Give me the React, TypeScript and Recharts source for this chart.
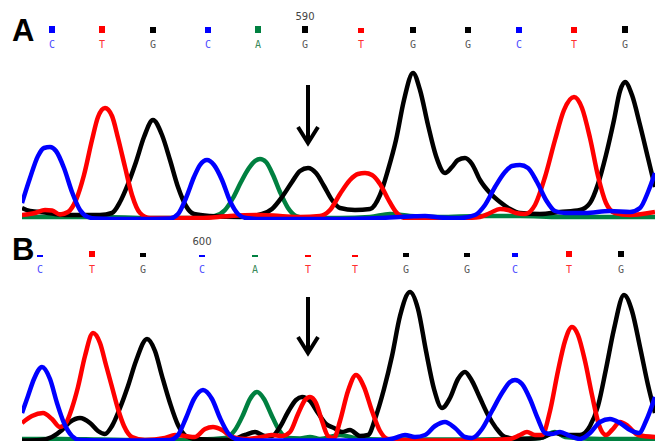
import React from "react";
import { LineChart, Line, XAxis, YAxis, ReferenceLine } from "recharts";

type Pt = [number, number];

// scan positions and base calls
const basesA = ["C", "T", "G", "C", "A", "G", "T", "G", "G", "C", "T", "G"];
const basePosA = [52, 102, 153, 208, 258, 305, 361, 413, 468, 519, 574, 625];
const qualA = [7, 7, 6, 6, 7, 7, 5, 6, 6, 6, 6, 7];

const basesB = ["C", "T", "G", "C", "A", "T", "T", "G", "G", "C", "T", "G"];
const basePosB = [40, 92, 143, 202, 255, 308, 355, 406, 467, 515, 569, 621];
const qualB = [2, 6, 4, 2, 2, 2, 2, 4, 4, 4, 6, 6];

// trace intensities, panel A
const blueA: Pt[] = [
  [22, 170], [30, 420], [38, 640], [44, 720], [50, 730], [56, 690], [64, 520], [72, 280], [80, 100], [88, 30],
  [96, 15], [130, 10], [170, 15], [178, 60], [186, 220], [194, 430], [200, 550], [207, 600], [214, 550], [222, 400],
  [230, 190], [238, 60], [246, 20], [260, 10], [300, 10], [340, 10], [380, 20], [410, 35], [425, 40], [440, 25],
  [460, 20], [475, 50], [485, 150], [495, 330], [505, 480], [512, 540], [520, 550], [528, 520], [537, 380], [546, 200],
  [555, 90], [565, 70], [585, 70], [610, 90], [630, 80], [640, 120], [648, 280], [655, 470],
];
const redA: Pt[] = [
  [22, 50], [35, 70], [45, 100], [52, 95], [60, 55], [68, 80], [76, 200], [84, 450], [92, 800], [98, 1030],
  [105, 1120], [112, 1040], [118, 820], [125, 530], [132, 250], [140, 70], [150, 20], [200, 20], [230, 40], [260, 50],
  [280, 40], [300, 30], [320, 40], [330, 100], [340, 260], [350, 400], [358, 460], [365, 470], [372, 450], [380, 360],
  [388, 210], [396, 80], [405, 20], [440, 10], [480, 30], [490, 70], [500, 110], [508, 100], [516, 70], [525, 60],
  [535, 150], [545, 430], [555, 800], [564, 1100], [574, 1230], [582, 1120], [590, 820], [598, 440], [606, 170], [615, 70],
  [630, 50], [655, 80],
];
const blackA: Pt[] = [
  [22, 120], [30, 90], [45, 75], [65, 50], [100, 50], [112, 70], [120, 180], [128, 360], [136, 580], [144, 830],
  [153, 1000], [162, 850], [170, 600], [178, 330], [186, 140], [194, 60], [210, 40], [240, 30], [262, 60], [272, 110],
  [282, 230], [292, 380], [300, 490], [308, 520], [316, 470], [324, 340], [332, 200], [340, 120], [355, 100], [370, 110],
  [380, 250], [388, 500], [396, 800], [404, 1200], [413, 1470], [420, 1300], [428, 950], [436, 640], [445, 470], [452, 530],
  [458, 600], [465, 620], [472, 560], [480, 400], [490, 270], [500, 180], [510, 110], [520, 70], [540, 60], [560, 80],
  [580, 100], [590, 170], [598, 360], [606, 650], [614, 1000], [620, 1290], [625, 1380], [632, 1250], [640, 950], [648, 620],
  [655, 330],
];
const greenA: Pt[] = [
  [22, 30], [60, 30], [100, 30], [150, 20], [200, 20], [215, 40], [225, 100], [233, 220], [241, 380], [249, 520],
  [255, 590], [260, 610], [266, 580], [273, 450], [280, 280], [288, 120], [296, 40], [305, 20], [340, 20], [370, 30],
  [390, 60], [410, 40], [440, 30], [480, 40], [520, 40], [560, 30], [600, 30], [655, 30],
];

// trace intensities, panel B
const blueB: Pt[] = [
  [22, 280], [28, 450], [34, 620], [42, 740], [50, 620], [57, 380], [64, 180], [72, 50], [80, 10], [120, 5],
  [170, 10], [178, 60], [186, 230], [194, 420], [203, 510], [212, 420], [220, 230], [228, 80], [236, 20], [250, 5],
  [300, 5], [360, 5], [385, 10], [395, 30], [405, 60], [415, 40], [425, 60], [435, 150], [445, 190], [455, 130],
  [465, 40], [472, 30], [482, 120], [492, 300], [502, 480], [510, 590], [515, 610], [522, 570], [530, 420], [538, 220],
  [545, 80], [552, 70], [560, 90], [570, 50], [580, 20], [590, 80], [600, 190], [610, 220], [620, 180], [630, 110],
  [639, 80], [646, 200], [655, 440],
];
const redB: Pt[] = [
  [22, 180], [32, 250], [43, 280], [52, 220], [60, 140], [66, 180], [72, 330], [78, 540], [85, 850], [93, 1080],
  [100, 980], [106, 760], [112, 540], [118, 320], [124, 150], [132, 40], [145, 10], [165, 30], [175, 60], [185, 50],
  [195, 40], [205, 120], [213, 140], [222, 110], [232, 40], [245, 20], [262, 40], [272, 60], [282, 50], [290, 90],
  [298, 270], [305, 410], [310, 440], [316, 380], [322, 200], [328, 50], [334, 30], [340, 200], [348, 500], [356, 660],
  [364, 540], [372, 300], [380, 100], [388, 20], [420, 5], [480, 5], [510, 20], [520, 60], [527, 90], [535, 60],
  [542, 60], [550, 300], [558, 700], [565, 1000], [572, 1140], [578, 1060], [585, 800], [592, 460], [599, 160], [606, 60],
  [612, 110], [620, 190], [628, 150], [638, 60], [655, 40],
];
const blackB: Pt[] = [
  [22, 5], [40, 10], [52, 40], [62, 110], [70, 190], [80, 230], [90, 180], [98, 100], [105, 70], [112, 150],
  [120, 330], [128, 550], [136, 800], [147, 1020], [155, 900], [162, 650], [170, 380], [178, 160], [186, 50], [195, 20],
  [230, 10], [245, 60], [255, 90], [265, 50], [272, 50], [280, 140], [288, 290], [296, 410], [302, 440], [310, 400],
  [318, 280], [326, 170], [334, 130], [342, 90], [350, 110], [360, 50], [368, 60], [376, 250], [384, 520], [392, 850],
  [400, 1250], [410, 1490], [418, 1320], [426, 900], [434, 520], [442, 330], [450, 430], [458, 620], [465, 690], [472, 600],
  [480, 430], [488, 260], [496, 130], [505, 40], [520, 20], [540, 30], [555, 80], [565, 60], [580, 60], [590, 150],
  [598, 350], [606, 720], [614, 1120], [624, 1460], [632, 1300], [640, 940], [648, 560], [655, 280],
];
const greenB: Pt[] = [
  [22, 20], [60, 20], [100, 15], [150, 10], [200, 15], [225, 30], [235, 110], [243, 260], [250, 420], [257, 490],
  [264, 420], [271, 270], [279, 110], [287, 30], [300, 25], [310, 40], [320, 20], [340, 60], [360, 20], [400, 15],
  [480, 15], [540, 30], [555, 90], [565, 40], [600, 20], [655, 20],
];

const baseColor: Record<string, string> = { C: "#0000ff", T: "#ff0000", G: "#000000", A: "#008040" };
const letterColor: Record<string, string> = { C: "#4a4aff", T: "#ff3030", G: "#555555", A: "#3a8a5a" };

const toRows = (pts: Pt[]) => pts.map(([x, y]) => ({ x, y }));

const Arrow = (p: any) => {
  const { x1, y1, x2, y2 } = p;
  const top = Math.min(y1, y2);
  const tip = Math.max(y1, y2);
  return (
    <g stroke="#000" fill="none" strokeWidth={4}>
      <line x1={x1} y1={top} x2={x2} y2={tip - 2} />
      <polyline points={`${x1 - 10},${tip - 18} ${x1},${tip - 2} ${x1 + 10},${tip - 18}`} strokeLinejoin="miter" />
    </g>
  );
};

interface PanelProps {
  label: string;
  top: number;
  labelY: number;
  bases: string[];
  pos: number[];
  qual: number[];
  mark: { idx: number; text: string; y: number };
  sqBottom: number;
  letterY: number;
  arrow: [number, number, number];
  traces: { pts: Pt[]; color: string }[];
}

function Panel(p: PanelProps) {
  const BaseTick = (t: any) => {
    const i = p.pos.indexOf(t.payload.value);
    if (i < 0) return <g />;
    const b = p.bases[i];
    const q = p.qual[i];
    return (
      <g>
        {i === p.mark.idx && (
          <text x={t.x} y={p.mark.y} textAnchor="middle" fontSize={10} fill="#444" fontFamily="DejaVu Sans">
            {p.mark.text}
          </text>
        )}
        <rect x={t.x - 3} y={p.sqBottom - q} width={6} height={q} fill={baseColor[b]} />
        <text x={t.x} y={p.letterY} textAnchor="middle" fontSize={10} fill={letterColor[b]} fontFamily="DejaVu Sans Mono">
          {b}
        </text>
      </g>
    );
  };

  return (
    <div style={{ position: "absolute", left: 0, top: p.top, width: 657, height: 222 }}>
      <LineChart width={657} height={222} margin={{ top: 0, right: 2, left: 22, bottom: 2 }}>
        <XAxis
          xAxisId={0}
          type="number"
          dataKey="x"
          orientation="top"
          height={55}
          domain={[22, 655]}
          allowDataOverflow
          ticks={p.pos}
          interval={0}
          axisLine={false}
          tickLine={false}
          tick={BaseTick}
        />
        <YAxis hide domain={[0, 1650]} allowDataOverflow />
        {p.traces.map((tr, k) => (
          <Line
            key={k}
            data={toRows(tr.pts)}
            dataKey="y"
            type="monotone"
            stroke={tr.color}
            strokeWidth={4.5}
            dot={false}
            activeDot={false}
            isAnimationActive={false}
          />
        ))}
        <ReferenceLine
          segment={[
            { x: p.arrow[0], y: p.arrow[1] },
            { x: p.arrow[0], y: p.arrow[2] },
          ]}
          shape={Arrow}
        />
      </LineChart>
      <div
        style={{
          position: "absolute",
          left: 12,
          top: p.labelY,
          fontFamily: "Liberation Sans, Arial, sans-serif",
          fontWeight: "bold",
          fontSize: 31,
          lineHeight: "31px",
          color: "#000",
        }}
      >
        {p.label}
      </div>
    </div>
  );
}

export default function App() {
  return (
    <div style={{ position: "absolute", left: 0, top: 0, width: 657, height: 444, background: "#fff", overflow: "hidden" }}>
      <Panel
        label="A"
        top={0}
        labelY={15}
        bases={basesA}
        pos={basePosA}
        qual={qualA}
        mark={{ idx: 5, text: "590", y: 20 }}
        sqBottom={33}
        letterY={48}
        arrow={[308, 1350, 750]}
        traces={[
          { pts: greenA, color: "#008040" },
          { pts: blackA, color: "#000000" },
          { pts: redA, color: "#ff0000" },
          { pts: blueA, color: "#0000ff" },
        ]}
      />
      <Panel
        label="B"
        top={221}
        labelY={13}
        bases={basesB}
        pos={basePosB}
        qual={qualB}
        mark={{ idx: 3, text: "600", y: 24 }}
        sqBottom={36}
        letterY={52}
        arrow={[308, 1440, 860]}
        traces={[
          { pts: greenB, color: "#008040" },
          { pts: blackB, color: "#000000" },
          { pts: redB, color: "#ff0000" },
          { pts: blueB, color: "#0000ff" },
        ]}
      />
    </div>
  );
}
